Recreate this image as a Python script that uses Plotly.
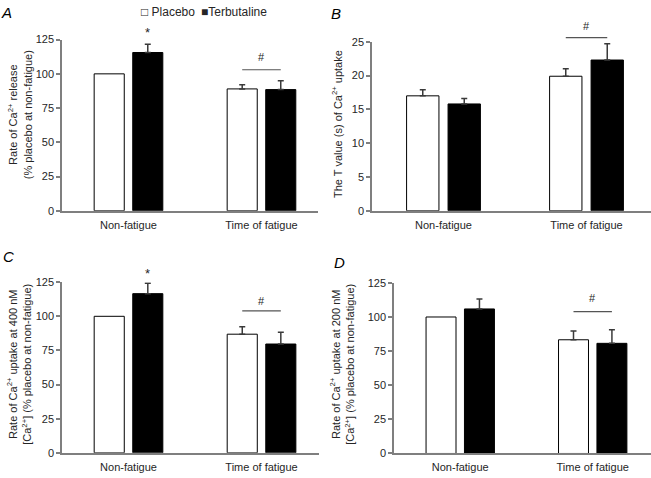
import plotly.graph_objects as go

W, H = 651, 478

categories = ["Non-fatigue", "Time of fatigue"]
series_names = ["Placebo", "Terbutaline"]

# Panel A: Rate of Ca2+ release (% placebo at non-fatigue)
a_placebo = [100, 89.0]
a_placebo_err = [None, 3.0]
a_terb = [115.6, 88.5]
a_terb_err = [6.0, 6.5]

# Panel B: T value (s) of Ca2+ uptake
b_placebo = [17.0, 19.9]
b_placebo_err = [0.9, 1.1]
b_terb = [15.8, 22.3]
b_terb_err = [0.8, 2.4]

# Panel C: Rate of Ca2+ uptake at 400 nM
c_placebo = [100, 86.9]
c_placebo_err = [None, 5.5]
c_terb = [116.6, 79.7]
c_terb_err = [7.7, 8.6]

# Panel D: Rate of Ca2+ uptake at 200 nM
d_placebo = [100, 83.3]
d_placebo_err = [None, 6.5]
d_terb = [105.9, 80.7]
d_terb_err = [7.2, 10.0]

a_ticks = [0, 25, 50, 75, 100, 125]
b_ticks = [0, 5, 10, 15, 20, 25]

BARGAP = 0.42
BARGROUPGAP = 0.22
OFF = (1 - BARGAP) / 4  # centre offset of each bar in a group

AXIS_COLOR = "#7f7f7f"
TEXT_COLOR = "#262626"
FONT = "Liberation Sans, Arial, sans-serif"

panels = [
    dict(key="A", xa="x", ya="y",
         xdom=[62 / W, 318 / W], xrange=[-0.5, 1.425],
         ydom=[1 - 210 / H, 1 - 34.5 / H], yrange=[0, 125], ticks=a_ticks,
         placebo=a_placebo, pe=a_placebo_err, terb=a_terb, te=a_terb_err,
         title="Rate of Ca<sup>2+</sup> release<br>(% placebo at non-fatigue)",
         title_xy=(20, 112), label_xy=(6, 7),
         star=130, hash_y=112, line_y=103),
    dict(key="B", xa="x2", ya="y2",
         xdom=[372 / W, 1.0], xrange=[-0.5, 1.451],
         ydom=[1 - 210 / H, 1 - 36.7 / H], yrange=[0, 25], ticks=b_ticks,
         placebo=b_placebo, pe=b_placebo_err, terb=b_terb, te=b_terb_err,
         title="The T value (s) of Ca<sup>2+</sup> uptake",
         title_xy=(337, 121), label_xy=(336, 8),
         star=None, hash_y=27.3, line_y=25.6),
    dict(key="C", xa="x3", ya="y3",
         xdom=[62 / W, 319 / W], xrange=[-0.5, 1.432],
         ydom=[1 - 458.3 / H, 1 - 283.3 / H], yrange=[0, 125], ticks=a_ticks,
         placebo=c_placebo, pe=c_placebo_err, terb=c_terb, te=c_terb_err,
         title="Rate of Ca<sup>2+</sup> uptake at 400 nM<br>[Ca<sup>2+</sup>] (% placebo at non-fatigue)",
         title_xy=(19, 368), label_xy=(8, 257),
         star=131, hash_y=111.4, line_y=104),
    dict(key="D", xa="x4", ya="y4",
         xdom=[394 / W, 1.0], xrange=[-0.5, 1.44],
         ydom=[1 - 459 / H, 1 - 284 / H], yrange=[0, 125], ticks=a_ticks,
         placebo=d_placebo, pe=d_placebo_err, terb=d_terb, te=d_terb_err,
         title="Rate of Ca<sup>2+</sup> uptake at 200 nM<br>[Ca<sup>2+</sup>] (% placebo at non-fatigue)",
         title_xy=(342, 367), label_xy=(339, 263),
         star=None, hash_y=114, line_y=104),
]


def px_x(p, v):
    d0, d1 = p["xdom"]
    r0, r1 = p["xrange"]
    return d0 + (v - r0) / (r1 - r0) * (d1 - d0)


def px_y(p, v):
    d0, d1 = p["ydom"]
    r0, r1 = p["yrange"]
    return d0 + (v - r0) / (r1 - r0) * (d1 - d0)


def err_plus(errs):
    # missing error -> non-numeric so plotly skips that error bar entirely
    return [e if e is not None else "none" for e in errs]


def err_minus(errs):
    return [0 if e is not None else "none" for e in errs]


fig = go.Figure()
xpos = list(range(len(categories)))

for p in panels:
    for name, vals, errs, fill in [
        (series_names[0], p["placebo"], p["pe"], "white"),
        (series_names[1], p["terb"], p["te"], "black"),
    ]:
        fig.add_trace(go.Bar(
            x=xpos, y=vals, name=name, offsetgroup=name,
            xaxis=p["xa"], yaxis=p["ya"],
            marker=dict(color=fill, line=dict(color="black", width=1)),
            error_y=dict(type="data", array=err_plus(errs),
                         arrayminus=err_minus(errs),
                         symmetric=False, color="#3a3a3a", thickness=1.5, width=3),
            showlegend=False,
        ))

layout_axes = {}
for p in panels:
    xname = "xaxis" if p["xa"] == "x" else "xaxis" + p["xa"][1:]
    yname = "yaxis" if p["ya"] == "y" else "yaxis" + p["ya"][1:]
    layout_axes[xname] = dict(
        domain=p["xdom"], range=p["xrange"], anchor=p["ya"],
        tickvals=xpos, ticktext=categories, showline=True,
        linecolor=AXIS_COLOR, linewidth=1.5,
        ticks="outside", ticklen=3, tickcolor="rgba(0,0,0,0)",
        showgrid=False, zeroline=False,
        tickfont=dict(size=11, color=TEXT_COLOR, family=FONT),
        fixedrange=True,
    )
    layout_axes[yname] = dict(
        domain=p["ydom"], range=p["yrange"], anchor=p["xa"],
        tickvals=p["ticks"], showline=True, linecolor=AXIS_COLOR, linewidth=1.5,
        ticks="outside", ticklen=4, tickcolor=AXIS_COLOR, tickwidth=1.5,
        showgrid=False, zeroline=False,
        tickfont=dict(size=11, color=TEXT_COLOR, family=FONT),
        fixedrange=True,
    )

annotations = []
shapes = []
for p in panels:
    tx, ty = p["title_xy"]
    annotations.append(dict(
        text=p["title"], xref="paper", yref="paper", x=tx / W, y=1 - ty / H,
        xanchor="center", yanchor="middle", textangle=-90, showarrow=False,
        font=dict(size=11, color=TEXT_COLOR, family=FONT), align="center",
    ))
    lx, ly = p["label_xy"]
    annotations.append(dict(
        text="<i>" + p["key"] + "</i>", xref="paper", yref="paper",
        x=lx / W, y=1 - ly / H, xanchor="center", yanchor="middle",
        showarrow=False, font=dict(size=15, color="black", family=FONT),
    ))
    if p["star"] is not None:
        annotations.append(dict(
            text="*", xref="paper", yref="paper",
            x=px_x(p, 0 + OFF), y=px_y(p, p["star"]),
            xanchor="center", yanchor="middle", showarrow=False,
            font=dict(size=13, color=TEXT_COLOR, family=FONT),
        ))
    annotations.append(dict(
        text="#", xref="paper", yref="paper",
        x=px_x(p, 1), y=px_y(p, p["hash_y"]),
        xanchor="center", yanchor="middle", showarrow=False,
        font=dict(size=11, color=TEXT_COLOR, family=FONT),
    ))
    shapes.append(dict(
        type="line", xref="paper", yref="paper",
        x0=px_x(p, 1 - OFF), x1=px_x(p, 1 + OFF),
        y0=px_y(p, p["line_y"]), y1=px_y(p, p["line_y"]),
        line=dict(color="#555555", width=1.2),
    ))

# legend as text
annotations.append(dict(
    text="□ Placebo", xref="paper", yref="paper", x=139 / W, y=1 - 6 / H,
    xanchor="left", yanchor="middle", showarrow=False,
    font=dict(size=12, color=TEXT_COLOR, family=FONT),
))
annotations.append(dict(
    text="■Terbutaline", xref="paper", yref="paper", x=199 / W, y=1 - 6 / H,
    xanchor="left", yanchor="middle", showarrow=False,
    font=dict(size=12, color=TEXT_COLOR, family=FONT),
))

fig.update_layout(
    width=W, height=H, autosize=False,
    margin=dict(l=0, r=0, t=0, b=0),
    paper_bgcolor="white", plot_bgcolor="white",
    barmode="group", bargap=BARGAP, bargroupgap=BARGROUPGAP,
    showlegend=False,
    font=dict(family=FONT, color=TEXT_COLOR),
    annotations=annotations, shapes=shapes,
    **layout_axes,
)

fig.write_html(
    "out.html",
    config={"displayModeBar": False},
    post_script=(
        "document.documentElement.style.margin='0';"
        "document.body.style.margin='0';document.body.style.padding='0';"
        "document.documentElement.style.overflow='hidden';"
        "document.body.style.overflow='hidden';"
        "var gd=document.getElementsByClassName('plotly-graph-div')[0];"
        "gd.style.position='absolute';gd.style.top='0px';gd.style.left='0px';"
    ),
)
